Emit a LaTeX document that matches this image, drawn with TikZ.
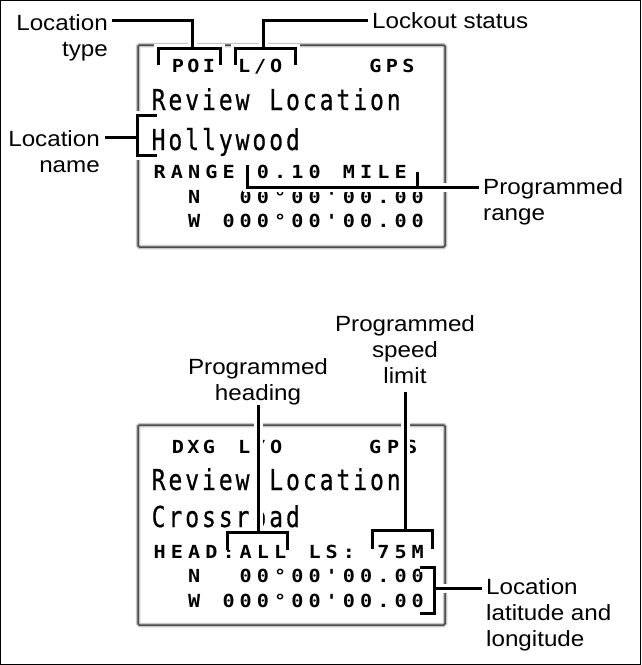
\documentclass[tikz,border=0pt]{standalone}
\usepackage{fontspec}
\usetikzlibrary{calc}
\newfontfamily\lblfont[FakeStretch=1.1]{Liberation Sans}
\newfontfamily\lcdbigfont[FakeStretch=0.8,FakeBold=0.6]{DejaVu Sans Mono}
\newfontfamily\lcdsmallfont[FakeStretch=1.12]{DejaVu Sans Mono}
\makeatletter
\def\lcd@end{LCDEND}
\def\lcd#1#2{\def\lcdpitch{#1}\lcd@#2\lcd@end}
\def\lcd@#1{\ifx#1\lcd@end\else\makebox[\lcdpitch]{#1}\expandafter\lcd@\fi}
\makeatother
\tikzset{
  lbl/.style={font=\lblfont\fontsize{22}{26}\selectfont, inner sep=0pt},
  lcdbig/.style={font=\lcdbigfont\fontsize{28.8}{30}\selectfont, inner sep=0pt, anchor=base west},
  lcdsmall/.style={font=\lcdsmallfont\bfseries\fontsize{18}{20}\selectfont, inner sep=0pt, anchor=base west},
  lcdbox/.style={draw=black!70, line width=1.5pt, rounded corners=1.5pt, preaction={draw=gray!45, line width=4.5pt}},
  conn/.style={line width=3pt, preaction={draw=white, line width=9pt}},
}
\begin{document}
\begin{tikzpicture}[x=1pt,y=-1pt]
\useasboundingbox (0,0) rectangle (641,665);
\draw[line width=1pt] (0.5,0.5) rectangle (640.5,664.5);

% display boxes
\draw[lcdbox] (138,45) rectangle (445,247);
\draw[lcdbox] (138,425) rectangle (445,625);

% top display text
\node[lcdsmall] (a1) at (170,72) {\lcd{15.5pt}{POI}};
\node[lcdsmall] (a2) at (236,72) {\lcd{16pt}{L/O}};
\node[lcdsmall] (a3) at (367,72) {\lcd{16.5pt}{GPS}};
\node[lcdbig] (a4) at (150,110) {\lcd{16.8pt}{Review~Location}};
\node[lcdbig] (a5) at (150,150) {\lcd{16.8pt}{Hollywood}};
\node[lcdsmall] (a6) at (151,178) {\lcd{17.2pt}{RANGE:0.10~MILE}};
\node[lcdsmall] (a7) at (151,203) {\lcd{17.2pt}{~~N~~00°00'00.00}};
\node[lcdsmall] (a8) at (151,227) {\lcd{17.2pt}{~~W~000°00'00.00}};

% bottom display text
\node[lcdsmall] (b1) at (170,453) {\lcd{15.5pt}{DXG}};
\node[lcdsmall] (b2) at (236,453) {\lcd{16pt}{L/O}};
\node[lcdsmall] (b3) at (366,453) {\lcd{18pt}{GPS}};
\node[lcdbig] (b4) at (150,490) {\lcd{16.8pt}{Review~Location}};
\node[lcdbig] (b5) at (150,527) {\lcd{16.8pt}{Crossroad}};
\node[lcdsmall] (b6) at (151,558) {\lcd{17.2pt}{HEAD:ALL~LS:~75M}};
\node[lcdsmall] (b7) at (151,582) {\lcd{17.2pt}{~~N~~00°00'00.00}};
\node[lcdsmall] (b8) at (151,607) {\lcd{17.2pt}{~~W~000°00'00.00}};

% labels
\node[lbl, anchor=north east, align=right] (loctype) at (108,14) {Location\\type};
\node[lbl, anchor=base west] (lockout) at (372,28) {Lockout status};
\node[lbl, anchor=north east, align=right] (locname) at (100,130) {Location\\name};
\node[lbl, anchor=north west, align=left] (range) at (483,178) {Programmed\\range};
\node[lbl, anchor=north, align=center] (heading) at (258,358) {Programmed\\heading};
\node[lbl, anchor=north, align=center] (speed) at (405,315) {Programmed\\speed\\limit};
\node[lbl, anchor=north west, align=left] (latlong) at (486,578) {Location\\latitude and\\longitude};

% bracket coordinates
\coordinate (poiTop) at (192,48);
\coordinate (poiL) at (158,65);
\coordinate (poiR) at (220,65);
\coordinate (loTop) at (263,48);
\coordinate (loL) at (235,65);
\coordinate (loR) at (295,65);
\coordinate (nameMid) at (137,137);
\coordinate (nameT) at (157,115);
\coordinate (nameB) at (157,155);
\coordinate (rangeL) at (247,165);
\coordinate (rangeR) at (417,172);
\coordinate (rangeRB) at (417,187);
\coordinate (headTop) at (258,532);
\coordinate (headL) at (227,550);
\coordinate (headR) at (287,550);
\coordinate (spdTop) at (405,530);
\coordinate (spdL) at (372,549);
\coordinate (spdR) at (432,549);
\coordinate (llT) at (420,567);
\coordinate (llB) at (420,613);
\coordinate (llMid) at (434,588);

% connectors
\draw[conn] ($(loctype.north east)+(4,6)$) -| (poiTop) (poiL) |- (poiTop) -| (poiR);
\draw[conn] ($(lockout.base west)+(-4,-8)$) -| (loTop) (loL) |- (loTop) -| (loR);
\draw[conn] ($(locname.north east)+(5,7)$) -- (nameMid) (nameT) -| (nameMid) |- (nameB);
\draw[conn] (rangeL) |- ($(range.north west)+(-4,9)$) (rangeR) -- (rangeRB);
\draw[conn] (heading.south) -- (headTop) (headL) |- (headTop) -| (headR);
\draw[conn] ($(speed.south)+(0,8)$) -- (spdTop) (spdL) |- (spdTop) -| (spdR);
\draw[conn] (llT) -| (llMid) |- (llB) (llMid) -- ($(latlong.north west)+(-4,10)$);
\end{tikzpicture}
\end{document}
